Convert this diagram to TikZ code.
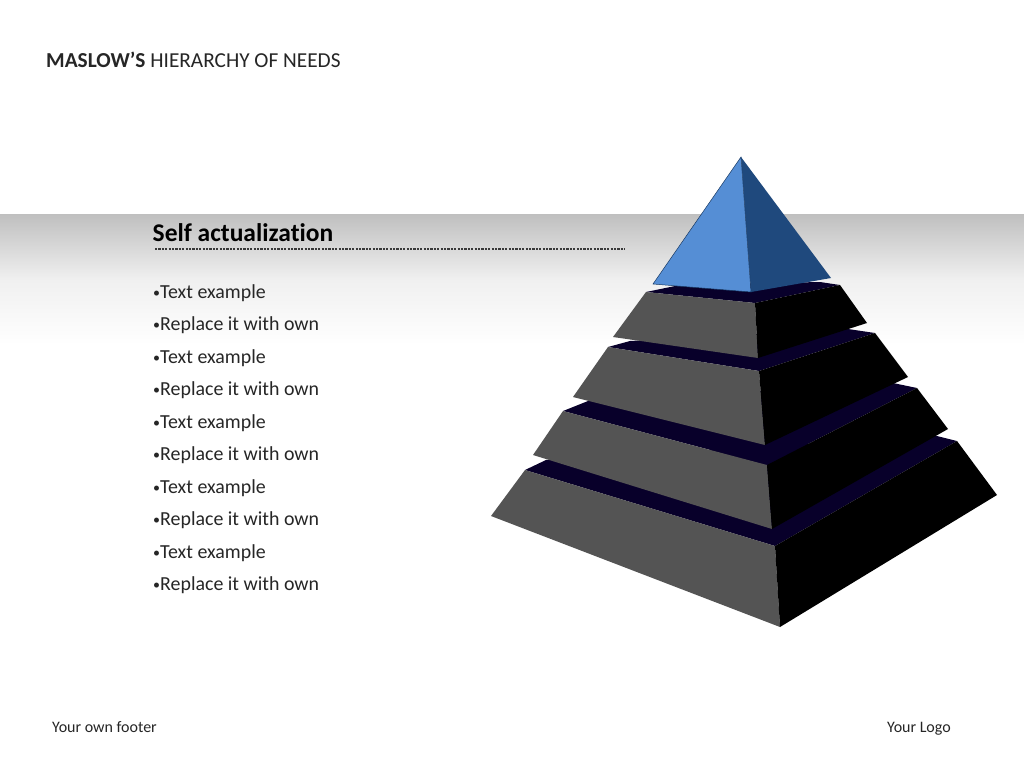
\documentclass[tikz,border=0pt]{standalone}
\usepackage{fontspec}
\setmainfont[RawFeature={-liga}]{Carlito}
\definecolor{facegray}{HTML}{545454}
\definecolor{topnavy}{HTML}{08002A}
\definecolor{blueL}{HTML}{558ED5}
\definecolor{blueR}{HTML}{1F497D}
\definecolor{ink}{HTML}{262626}
\newcommand{\bul}{\makebox[7pt][l]{\fontsize{14}{14}\selectfont\raisebox{0.6pt}{•}}}
\begin{document}
\begin{tikzpicture}[x=1pt,y=-1pt,
  lefface/.style={fill=facegray},
  rigface/.style={fill=black},
  topface/.style={fill=topnavy},
  bullet/.style={anchor=base west,inner sep=0pt,text=ink,font=\fontsize{19.9}{20}\selectfont},
  foot/.style={inner sep=0pt,text=ink,font=\fontsize{16}{16}\selectfont}]
\useasboundingbox (0,0) rectangle (1024,768);
\fill[white] (0,0) rectangle (1024,768);
\shade[top color=black!25,bottom color=white,middle color=black!6] (0,214) rectangle (1024,345);
% title
\node[anchor=base west,inner sep=0pt,text=ink,font=\fontsize{21.3}{21}\selectfont] (title) at (46,67) {\textbf{MASLOW’S} HIERARCHY OF NEEDS};
\node[anchor=base west,inner sep=0pt,text=black,font=\bfseries\fontsize{25.5}{26}\selectfont] (head) at (152.5,241) {Self actualization};
\coordinate (dotA) at (155,249); \coordinate (dotB) at (625,249);
\draw[line width=2.2pt,color=black!78,dash pattern=on 2.2pt off 1.2pt] (dotA) -- (dotB);
% bullets
\foreach \i/\t in {0/Text example,1/Replace it with own,2/Text example,3/Replace it with own,4/Text example,5/Replace it with own,6/Text example,7/Replace it with own,8/Text example,9/Replace it with own}
  \node[bullet] (b\i) at (153,{298+32.5*\i}) {\bul\t};
% footer
\node[foot,anchor=base west] (footer) at (52,732) {Your own footer};
\node[foot,anchor=base east] (logo) at (951,732) {Your Logo};
% tier 4
\fill[topface] (525,470) -- (546,460) -- (937,436) -- (957,441) -- (775,546) -- cycle;
\fill[lefface] (525,470) -- (775,546) -- (780,627) -- (491,516) -- cycle;
\fill[rigface] (775,546) -- (957,441) -- (997,495) -- (780,627) -- cycle;
% tier 3
\fill[topface] (563,411) -- (588,401) -- (893,383) -- (917,388) -- (767,465) -- cycle;
\fill[lefface] (563,411) -- (767,465) -- (772,529) -- (533,455) -- cycle;
\fill[rigface] (767,465) -- (917,388) -- (948,429) -- (772,529) -- cycle;
% tier 2
\fill[topface] (608,347) -- (630,341) -- (848,329) -- (875,333) -- (759,371) -- cycle;
\fill[lefface] (608,347) -- (759,371) -- (765,445) -- (573,397) -- cycle;
\fill[rigface] (759,371) -- (875,333) -- (908,377) -- (765,445) -- cycle;
% tier 1
\fill[topface] (646,292) -- (680,285) -- (820,282) -- (840,285) -- (755,303) -- cycle;
\fill[lefface] (646,292) -- (755,303) -- (758,358) -- (613,337) -- cycle;
\fill[rigface] (755,303) -- (840,285) -- (867,323) -- (758,358) -- cycle;
% capstone
\fill[blueR] (741,157) -- (831,278) -- (751,292) -- cycle;
\filldraw[fill=blueL,draw=blueR!80!black,line width=0.5pt] (741,157) -- (653,284) -- (751,292) -- cycle;
\end{tikzpicture}
\end{document}
